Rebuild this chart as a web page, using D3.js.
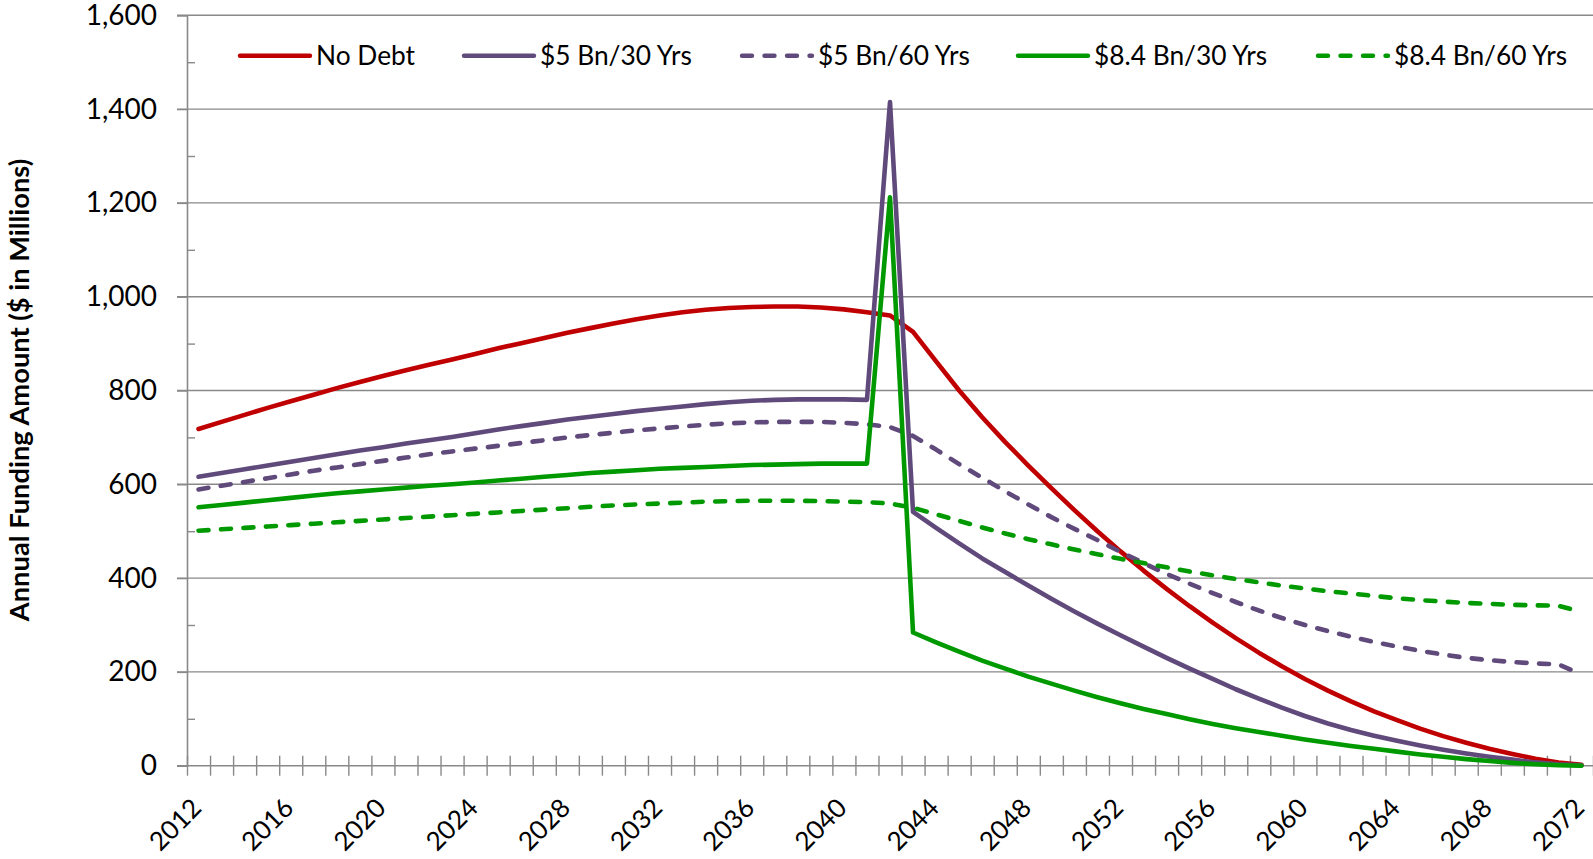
<!DOCTYPE html>
<html>
<head>
<meta charset="utf-8">
<script src="https://cdn.jsdelivr.net/npm/d3@7"></script>
<style>
  html, body { margin: 0; padding: 0; background: #ffffff; }
  svg { display: block; }
  text { font-family: Lato, "Open Sans", "Liberation Sans", sans-serif; fill: #000; }
</style>
</head>
<body>
<svg id="chart" width="1593" height="859"></svg>
<script>
// Funding years (one category per year)
const years = d3.range(2012, 2073);

// Year labels shown on the category axis
const xTickLabels = [2012, 2016, 2020, 2024, 2028, 2032, 2036, 2040, 2044, 2048, 2052, 2056, 2060, 2064, 2068, 2072];

// Value axis ticks ($ in millions)
const yTicks = [0, 200, 400, 600, 800, 1000, 1200, 1400, 1600];
const yMinorTicks = [100, 300, 500, 700, 900, 1100, 1300, 1500];

// Annual funding amounts, 2012–2072
const noDebt = [
  718, 733, 748, 763, 777, 791, 805, 818, 831, 843,
  855, 866, 878, 890, 901, 912, 923, 933, 943, 952,
  960, 967, 972, 976, 978, 979, 979, 977, 973, 967,
  960, 925, 862, 800, 743, 690, 640, 592, 545, 500,
  457, 416, 377, 340, 305, 272, 241, 212, 185, 160,
  137, 116, 97, 79, 63, 49, 36, 25, 15, 7,
  2
];
const bn5y30 = [
  616, 624, 632, 640, 648, 656, 664, 672, 679, 687,
  694, 701, 709, 717, 724, 731, 738, 744, 750, 756,
  761, 766, 771, 775, 778, 780, 781, 781, 781, 780,
  1415, 541, 507, 474, 442, 413, 384, 356, 329, 303,
  278, 254, 230, 207, 185, 163, 143, 124, 106, 90,
  76, 64, 53, 43, 34, 26, 19, 13, 7, 3,
  1
];
const bn5y60 = [
  589, 597, 605, 613, 621, 629, 636, 643, 650, 657,
  664, 670, 676, 682, 688, 694, 700, 705, 710, 715,
  719, 723, 727, 730, 732, 733, 733, 733, 731, 728,
  722, 703, 674, 643, 614, 585, 557, 530, 505, 481,
  456, 432, 409, 388, 368, 349, 331, 315, 300, 287,
  275, 264, 254, 245, 237, 230, 225, 221, 218, 216,
  195
];
const bn84y30 = [
  551, 556, 561, 566, 571, 576, 581, 585, 589, 593,
  597, 600, 604, 608, 612, 616, 620, 624, 627, 630,
  633, 635, 637, 639, 641, 642, 643, 644, 644, 644,
  1212, 284, 263, 243, 224, 207, 190, 175, 160, 146,
  133, 121, 110, 99, 89, 80, 72, 64, 56, 49,
  42, 36, 30, 24, 19, 14, 10, 6, 3, 1,
  0
];
const bn84y60 = [
  501, 504, 507, 510, 513, 516, 519, 522, 525, 528,
  531, 534, 537, 540, 543, 546, 549, 552, 555, 557,
  559, 561, 563, 564, 565, 565, 565, 564, 563, 562,
  559, 550, 536, 522, 508, 495, 483, 472, 461, 451,
  441, 432, 423, 414, 406, 398, 391, 384, 378, 372,
  367, 362, 357, 353, 350, 347, 345, 343, 342, 341,
  328
];

const seriesNames = ["No Debt", "$5 Bn/30 Yrs", "$5 Bn/60 Yrs", "$8.4 Bn/30 Yrs", "$8.4 Bn/60 Yrs"];
const seriesValues = [noDebt, bn5y30, bn5y60, bn84y30, bn84y60];
const seriesColors = ["#C00000", "#604A7B", "#604A7B", "#009A00", "#009A00"];
const seriesDashed = [false, false, true, false, true];

const svg = d3.select("#chart");

const plotLeft = 187, plotRight = 1593, plotTop = 15.3, plotBottom = 765.7;
const gridColor = "#898989";

const x = d3.scaleBand().domain(years).range([plotLeft, plotRight]).paddingInner(0).paddingOuter(0);
const xc = d => x(d) + x.bandwidth() / 2;
const y = d3.scaleLinear().domain([0, 1600]).range([plotBottom, plotTop]);

// Horizontal gridlines
svg.append("g")
  .selectAll("line")
  .data(yTicks.filter(v => v > 0))
  .join("line")
  .attr("x1", plotLeft - 10).attr("x2", plotRight)
  .attr("y1", d => y(d)).attr("y2", d => y(d))
  .attr("stroke", gridColor).attr("stroke-width", 1.4);

// Value axis with labels
const yAxis = svg.append("g")
  .attr("transform", `translate(${plotLeft},0)`)
  .call(d3.axisLeft(y).tickValues(yTicks).tickSize(10).tickPadding(20).tickFormat(d3.format(",")));
yAxis.select(".domain").attr("stroke", gridColor).attr("stroke-width", 1.6);
yAxis.selectAll(".tick line").attr("stroke", gridColor).attr("stroke-width", 1.4);
yAxis.selectAll(".tick text")
  .style("font-size", "28px")
  .attr("fill", "#000");

// Minor ticks on the inside of the value axis
const yMinor = svg.append("g")
  .attr("transform", `translate(${plotLeft},0)`)
  .call(d3.axisRight(y).tickValues(yMinorTicks).tickSize(8).tickFormat(""));
yMinor.select(".domain").remove();
yMinor.selectAll(".tick line").attr("stroke", gridColor).attr("stroke-width", 1.4);

// Category axis: tick marks at every year boundary, crossing the axis line
const xEdges = d3.scaleLinear().domain([0, years.length]).range([plotLeft, plotRight]);
const xAxis = svg.append("g")
  .attr("transform", `translate(0,${plotBottom - 10})`)
  .call(d3.axisBottom(xEdges).tickValues(d3.range(0, years.length + 1)).tickSize(20).tickFormat(""));
xAxis.select(".domain").remove();
xAxis.selectAll(".tick line").attr("stroke", gridColor).attr("stroke-width", 1.4);

svg.append("line")
  .attr("x1", plotLeft - 10).attr("x2", plotRight)
  .attr("y1", plotBottom).attr("y2", plotBottom)
  .attr("stroke", gridColor).attr("stroke-width", 1.6);

// Rotated year labels
svg.append("g")
  .selectAll("text")
  .data(xTickLabels)
  .join("text")
  .attr("transform", d => `translate(${xc(d) + 4.5},${plotBottom + 44}) rotate(-45)`)
  .attr("text-anchor", "end")
  .style("font-size", "26px")
  .text(d => d);

// Axis title
svg.append("text")
  .attr("transform", `translate(28.5,390) rotate(-90)`)
  .attr("text-anchor", "middle")
  .style("font-size", "27.3px")
  .style("font-weight", "bold")
  .text("Annual Funding Amount ($ in Millions)");

// Series lines
const line = d3.line()
  .x((d, i) => xc(years[i]))
  .y(d => y(d))
  .curve(d3.curveLinear);

const dashPattern = "10,12.5";

svg.append("g")
  .selectAll("path")
  .data(seriesValues)
  .join("path")
  .attr("d", d => line(d))
  .attr("fill", "none")
  .attr("stroke", (d, i) => seriesColors[i])
  .attr("stroke-width", 4.6)
  .attr("stroke-linejoin", "round")
  .attr("stroke-linecap", "round")
  .attr("stroke-dasharray", (d, i) => seriesDashed[i] ? dashPattern : null);

// Legend
const legendX = [240, 464, 742, 1018, 1318];
const legendY = 55.7;
const legendLineLen = 70;
const legend = svg.append("g")
  .selectAll("g")
  .data(seriesNames)
  .join("g")
  .attr("transform", (d, i) => `translate(${legendX[i]},${legendY})`);

legend.append("line")
  .attr("x1", 0).attr("x2", legendLineLen)
  .attr("y1", 0).attr("y2", 0)
  .attr("stroke", (d, i) => seriesColors[i])
  .attr("stroke-width", 4.4)
  .attr("stroke-linecap", "round")
  .attr("stroke-dasharray", (d, i) => seriesDashed[i] ? dashPattern : null);

legend.append("text")
  .attr("x", legendLineLen + 6)
  .attr("y", 0)
  .attr("dy", "0.35em")
  .style("font-size", "26.3px")
  .text(d => d);
</script>
</body>
</html>
